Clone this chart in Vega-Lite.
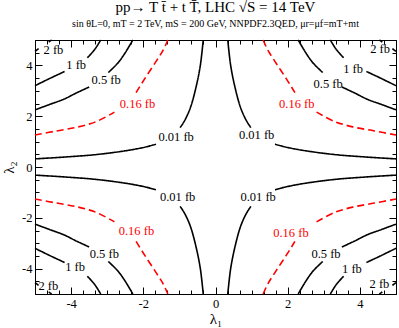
{
  "$schema": "https://vega.github.io/schema/vega-lite/v6.json",
  "autosize": {"type": "none"},
  "width": 361,
  "height": 254,
  "padding": {"left": 35, "top": 40, "right": 3, "bottom": 34},
  "background": "white",
  "title": {
    "text": "pp→ T t̄ + t T̄, LHC √S = 14 TeV",
    "subtitle": "sin θL=0, mT = 2 TeV, mS = 200 GeV, NNPDF2.3QED, μr=μf=mT+mt",
    "font": "Liberation Serif",
    "fontSize": 15,
    "fontWeight": "normal",
    "color": "black",
    "subtitleFont": "Liberation Serif",
    "subtitleFontSize": 10,
    "subtitleColor": "black",
    "anchor": "middle",
    "offset": 8,
    "subtitlePadding": 4
  },
  "datasets": {
    "lines": [
      {"k": "0.01", "g": "UL01a", "a": -5, "b": 0.32},
      {"k": "0.01", "g": "UL01a", "a": -4.2, "b": 0.39},
      {"k": "0.01", "g": "UL01a", "a": -3.3, "b": 0.49},
      {"k": "0.01", "g": "UL01a", "a": -2.4, "b": 0.66},
      {"k": "0.01", "g": "UL01a", "a": -1.9, "b": 0.8},
      {"k": "0.01", "g": "UL01a", "a": -1.65, "b": 0.9},
      {"k": "0.01", "g": "UL01b", "a": -0.98, "b": 1.55},
      {"k": "0.01", "g": "UL01b", "a": -0.9, "b": 1.72},
      {"k": "0.01", "g": "UL01b", "a": -0.8, "b": 1.98},
      {"k": "0.01", "g": "UL01b", "a": -0.68, "b": 2.4},
      {"k": "0.01", "g": "UL01b", "a": -0.53, "b": 3.2},
      {"k": "0.01", "g": "UL01b", "a": -0.42, "b": 4.0},
      {"k": "0.01", "g": "UL01b", "a": -0.34, "b": 5},
      {"k": "0.16", "g": "UL16a", "a": -5, "b": 1.26},
      {"k": "0.16", "g": "UL16a", "a": -4.4, "b": 1.42},
      {"k": "0.16", "g": "UL16a", "a": -3.8, "b": 1.58},
      {"k": "0.16", "g": "UL16a", "a": -3.3, "b": 1.79},
      {"k": "0.16", "g": "UL16a", "a": -2.8, "b": 2.16},
      {"k": "0.16", "g": "UL16b", "a": -2.2, "b": 2.93},
      {"k": "0.16", "g": "UL16b", "a": -1.95, "b": 3.5},
      {"k": "0.16", "g": "UL16b", "a": -1.65, "b": 4.15},
      {"k": "0.16", "g": "UL16b", "a": -1.45, "b": 4.6},
      {"k": "0.16", "g": "UL16b", "a": -1.32, "b": 5},
      {"k": "0.5", "g": "UL5a", "a": -5, "b": 2.25},
      {"k": "0.5", "g": "UL5a", "a": -4.6, "b": 2.46},
      {"k": "0.5", "g": "UL5a", "a": -4.2, "b": 2.67},
      {"k": "0.5", "g": "UL5a", "a": -3.86, "b": 2.91},
      {"k": "0.5", "g": "UL5a", "a": -3.5, "b": 3.15},
      {"k": "0.5", "g": "UL5b", "a": -2.97, "b": 3.72},
      {"k": "0.5", "g": "UL5b", "a": -2.7, "b": 4.1},
      {"k": "0.5", "g": "UL5b", "a": -2.5, "b": 4.5},
      {"k": "0.5", "g": "UL5b", "a": -2.29, "b": 5},
      {"k": "1", "g": "UL1a", "a": -5, "b": 3.2},
      {"k": "1", "g": "UL1a", "a": -4.6, "b": 3.48},
      {"k": "1", "g": "UL1a", "a": -4.18, "b": 3.76},
      {"k": "1", "g": "UL1b", "a": -3.55, "b": 4.3},
      {"k": "1", "g": "UL1b", "a": -3.35, "b": 4.62},
      {"k": "1", "g": "UL1b", "a": -3.18, "b": 5},
      {"k": "2", "g": "UL2a", "a": -5, "b": 4.55},
      {"k": "2", "g": "UL2a", "a": -4.9, "b": 4.66},
      {"k": "2", "g": "UL2b", "a": -4.62, "b": 4.92},
      {"k": "2", "g": "UL2b", "a": -4.54, "b": 5},

      {"k": "0.01", "g": "UR01a", "a": 5, "b": 0.32},
      {"k": "0.01", "g": "UR01a", "a": 4.2, "b": 0.39},
      {"k": "0.01", "g": "UR01a", "a": 3.3, "b": 0.49},
      {"k": "0.01", "g": "UR01a", "a": 2.4, "b": 0.66},
      {"k": "0.01", "g": "UR01a", "a": 1.9, "b": 0.8},
      {"k": "0.01", "g": "UR01a", "a": 1.65, "b": 0.9},
      {"k": "0.01", "g": "UR01b", "a": 0.98, "b": 1.55},
      {"k": "0.01", "g": "UR01b", "a": 0.9, "b": 1.72},
      {"k": "0.01", "g": "UR01b", "a": 0.8, "b": 1.98},
      {"k": "0.01", "g": "UR01b", "a": 0.68, "b": 2.4},
      {"k": "0.01", "g": "UR01b", "a": 0.53, "b": 3.2},
      {"k": "0.01", "g": "UR01b", "a": 0.42, "b": 4.0},
      {"k": "0.01", "g": "UR01b", "a": 0.34, "b": 5},
      {"k": "0.16", "g": "UR16a", "a": 5, "b": 1.26},
      {"k": "0.16", "g": "UR16a", "a": 4.4, "b": 1.42},
      {"k": "0.16", "g": "UR16a", "a": 3.8, "b": 1.58},
      {"k": "0.16", "g": "UR16a", "a": 3.3, "b": 1.79},
      {"k": "0.16", "g": "UR16a", "a": 2.8, "b": 2.16},
      {"k": "0.16", "g": "UR16b", "a": 2.2, "b": 2.93},
      {"k": "0.16", "g": "UR16b", "a": 1.95, "b": 3.5},
      {"k": "0.16", "g": "UR16b", "a": 1.65, "b": 4.15},
      {"k": "0.16", "g": "UR16b", "a": 1.45, "b": 4.6},
      {"k": "0.16", "g": "UR16b", "a": 1.32, "b": 5},
      {"k": "0.5", "g": "UR5a", "a": 5, "b": 2.25},
      {"k": "0.5", "g": "UR5a", "a": 4.6, "b": 2.46},
      {"k": "0.5", "g": "UR5a", "a": 4.2, "b": 2.67},
      {"k": "0.5", "g": "UR5a", "a": 3.86, "b": 2.91},
      {"k": "0.5", "g": "UR5a", "a": 3.5, "b": 3.15},
      {"k": "0.5", "g": "UR5b", "a": 2.97, "b": 3.72},
      {"k": "0.5", "g": "UR5b", "a": 2.7, "b": 4.1},
      {"k": "0.5", "g": "UR5b", "a": 2.5, "b": 4.5},
      {"k": "0.5", "g": "UR5b", "a": 2.29, "b": 5},
      {"k": "1", "g": "UR1a", "a": 5, "b": 3.2},
      {"k": "1", "g": "UR1a", "a": 4.6, "b": 3.48},
      {"k": "1", "g": "UR1a", "a": 4.18, "b": 3.76},
      {"k": "1", "g": "UR1b", "a": 3.55, "b": 4.3},
      {"k": "1", "g": "UR1b", "a": 3.35, "b": 4.62},
      {"k": "1", "g": "UR1b", "a": 3.18, "b": 5},
      {"k": "2", "g": "UR2a", "a": 5, "b": 4.55},
      {"k": "2", "g": "UR2a", "a": 4.9, "b": 4.66},
      {"k": "2", "g": "UR2b", "a": 4.62, "b": 4.92},
      {"k": "2", "g": "UR2b", "a": 4.54, "b": 5},

      {"k": "0.01", "g": "LL01a", "a": -5, "b": -0.32},
      {"k": "0.01", "g": "LL01a", "a": -4.2, "b": -0.39},
      {"k": "0.01", "g": "LL01a", "a": -3.3, "b": -0.49},
      {"k": "0.01", "g": "LL01a", "a": -2.4, "b": -0.66},
      {"k": "0.01", "g": "LL01a", "a": -1.9, "b": -0.8},
      {"k": "0.01", "g": "LL01a", "a": -1.65, "b": -0.9},
      {"k": "0.01", "g": "LL01b", "a": -0.98, "b": -1.55},
      {"k": "0.01", "g": "LL01b", "a": -0.9, "b": -1.72},
      {"k": "0.01", "g": "LL01b", "a": -0.8, "b": -1.98},
      {"k": "0.01", "g": "LL01b", "a": -0.68, "b": -2.4},
      {"k": "0.01", "g": "LL01b", "a": -0.53, "b": -3.2},
      {"k": "0.01", "g": "LL01b", "a": -0.42, "b": -4.0},
      {"k": "0.01", "g": "LL01b", "a": -0.34, "b": -5},
      {"k": "0.16", "g": "LL16a", "a": -5, "b": -1.26},
      {"k": "0.16", "g": "LL16a", "a": -4.4, "b": -1.42},
      {"k": "0.16", "g": "LL16a", "a": -3.8, "b": -1.58},
      {"k": "0.16", "g": "LL16a", "a": -3.3, "b": -1.79},
      {"k": "0.16", "g": "LL16a", "a": -2.8, "b": -2.16},
      {"k": "0.16", "g": "LL16b", "a": -2.2, "b": -2.93},
      {"k": "0.16", "g": "LL16b", "a": -1.95, "b": -3.5},
      {"k": "0.16", "g": "LL16b", "a": -1.65, "b": -4.15},
      {"k": "0.16", "g": "LL16b", "a": -1.45, "b": -4.6},
      {"k": "0.16", "g": "LL16b", "a": -1.32, "b": -5},
      {"k": "0.5", "g": "LL5a", "a": -5, "b": -2.25},
      {"k": "0.5", "g": "LL5a", "a": -4.6, "b": -2.46},
      {"k": "0.5", "g": "LL5a", "a": -4.2, "b": -2.67},
      {"k": "0.5", "g": "LL5a", "a": -3.86, "b": -2.91},
      {"k": "0.5", "g": "LL5a", "a": -3.5, "b": -3.15},
      {"k": "0.5", "g": "LL5b", "a": -2.97, "b": -3.72},
      {"k": "0.5", "g": "LL5b", "a": -2.7, "b": -4.1},
      {"k": "0.5", "g": "LL5b", "a": -2.5, "b": -4.5},
      {"k": "0.5", "g": "LL5b", "a": -2.29, "b": -5},
      {"k": "1", "g": "LL1a", "a": -5, "b": -3.2},
      {"k": "1", "g": "LL1a", "a": -4.6, "b": -3.48},
      {"k": "1", "g": "LL1a", "a": -4.18, "b": -3.76},
      {"k": "1", "g": "LL1b", "a": -3.55, "b": -4.3},
      {"k": "1", "g": "LL1b", "a": -3.35, "b": -4.62},
      {"k": "1", "g": "LL1b", "a": -3.18, "b": -5},
      {"k": "2", "g": "LL2a", "a": -5, "b": -4.55},
      {"k": "2", "g": "LL2a", "a": -4.9, "b": -4.66},
      {"k": "2", "g": "LL2b", "a": -4.62, "b": -4.92},
      {"k": "2", "g": "LL2b", "a": -4.54, "b": -5},

      {"k": "0.01", "g": "LR01a", "a": 5, "b": -0.32},
      {"k": "0.01", "g": "LR01a", "a": 4.2, "b": -0.39},
      {"k": "0.01", "g": "LR01a", "a": 3.3, "b": -0.49},
      {"k": "0.01", "g": "LR01a", "a": 2.4, "b": -0.66},
      {"k": "0.01", "g": "LR01a", "a": 1.9, "b": -0.8},
      {"k": "0.01", "g": "LR01a", "a": 1.65, "b": -0.9},
      {"k": "0.01", "g": "LR01b", "a": 0.98, "b": -1.55},
      {"k": "0.01", "g": "LR01b", "a": 0.9, "b": -1.72},
      {"k": "0.01", "g": "LR01b", "a": 0.8, "b": -1.98},
      {"k": "0.01", "g": "LR01b", "a": 0.68, "b": -2.4},
      {"k": "0.01", "g": "LR01b", "a": 0.53, "b": -3.2},
      {"k": "0.01", "g": "LR01b", "a": 0.42, "b": -4.0},
      {"k": "0.01", "g": "LR01b", "a": 0.34, "b": -5},
      {"k": "0.16", "g": "LR16a", "a": 5, "b": -1.26},
      {"k": "0.16", "g": "LR16a", "a": 4.4, "b": -1.42},
      {"k": "0.16", "g": "LR16a", "a": 3.8, "b": -1.58},
      {"k": "0.16", "g": "LR16a", "a": 3.3, "b": -1.79},
      {"k": "0.16", "g": "LR16a", "a": 2.8, "b": -2.16},
      {"k": "0.16", "g": "LR16b", "a": 2.2, "b": -2.93},
      {"k": "0.16", "g": "LR16b", "a": 1.95, "b": -3.5},
      {"k": "0.16", "g": "LR16b", "a": 1.65, "b": -4.15},
      {"k": "0.16", "g": "LR16b", "a": 1.45, "b": -4.6},
      {"k": "0.16", "g": "LR16b", "a": 1.32, "b": -5},
      {"k": "0.5", "g": "LR5a", "a": 5, "b": -2.25},
      {"k": "0.5", "g": "LR5a", "a": 4.6, "b": -2.46},
      {"k": "0.5", "g": "LR5a", "a": 4.2, "b": -2.67},
      {"k": "0.5", "g": "LR5a", "a": 3.86, "b": -2.91},
      {"k": "0.5", "g": "LR5a", "a": 3.5, "b": -3.15},
      {"k": "0.5", "g": "LR5b", "a": 2.97, "b": -3.72},
      {"k": "0.5", "g": "LR5b", "a": 2.7, "b": -4.1},
      {"k": "0.5", "g": "LR5b", "a": 2.5, "b": -4.5},
      {"k": "0.5", "g": "LR5b", "a": 2.29, "b": -5},
      {"k": "1", "g": "LR1a", "a": 5, "b": -3.2},
      {"k": "1", "g": "LR1a", "a": 4.6, "b": -3.48},
      {"k": "1", "g": "LR1a", "a": 4.18, "b": -3.76},
      {"k": "1", "g": "LR1b", "a": 3.55, "b": -4.3},
      {"k": "1", "g": "LR1b", "a": 3.35, "b": -4.62},
      {"k": "1", "g": "LR1b", "a": 3.18, "b": -5},
      {"k": "2", "g": "LR2a", "a": 5, "b": -4.55},
      {"k": "2", "g": "LR2a", "a": 4.9, "b": -4.66},
      {"k": "2", "g": "LR2b", "a": 4.62, "b": -4.92},
      {"k": "2", "g": "LR2b", "a": 4.54, "b": -5}
    ],
    "labels": [
      {"t": "2 fb", "k": "2", "a": -4.49, "b": 4.62},
      {"t": "1 fb", "k": "1", "a": -3.86, "b": 4.03},
      {"t": "0.5 fb", "k": "0.5", "a": -3.03, "b": 3.44},
      {"t": "0.16 fb", "k": "0.16", "a": -2.16, "b": 2.48},
      {"t": "0.01 fb", "k": "0.01", "a": -1.09, "b": 1.18},
      {"t": "2 fb", "k": "2", "a": 4.56, "b": 4.66},
      {"t": "1 fb", "k": "1", "a": 3.81, "b": 3.87},
      {"t": "0.5 fb", "k": "0.5", "a": 3.12, "b": 3.28},
      {"t": "0.16 fb", "k": "0.16", "a": 2.25, "b": 2.5},
      {"t": "0.01 fb", "k": "0.01", "a": 1.14, "b": 1.25},
      {"t": "0.01 fb", "k": "0.01", "a": -1.05, "b": -1.18},
      {"t": "0.16 fb", "k": "0.16", "a": -2.19, "b": -2.52},
      {"t": "0.5 fb", "k": "0.5", "a": -3.08, "b": -3.41},
      {"t": "1 fb", "k": "1", "a": -3.89, "b": -3.94},
      {"t": "2 fb", "k": "2", "a": -4.63, "b": -4.7},
      {"t": "0.01 fb", "k": "0.01", "a": 1.18, "b": -1.18},
      {"t": "0.16 fb", "k": "0.16", "a": 2.09, "b": -2.58},
      {"t": "0.5 fb", "k": "0.5", "a": 3.06, "b": -3.41},
      {"t": "1 fb", "k": "1", "a": 3.78, "b": -4.0},
      {"t": "2 fb", "k": "2", "a": 4.54, "b": -4.59}
    ]
  },
  "layer": [
    {
      "data": {"name": "lines"},
      "mark": {"type": "line", "interpolate": "catmull-rom", "strokeWidth": 1.6},
      "encoding": {
        "x": {
          "field": "a", "type": "quantitative",
          "scale": {"domain": [-5, 5], "nice": false, "zero": false},
          "axis": {
            "orient": "bottom",
            "title": "λ₁",
            "values": [-5, -4.6667, -4.3333, -4, -3.6667, -3.3333, -3, -2.6667, -2.3333, -2, -1.6667, -1.3333, -1, -0.6667, -0.3333, 0, 0.3333, 0.6667, 1, 1.3333, 1.6667, 2, 2.3333, 2.6667, 3, 3.3333, 3.6667, 4, 4.3333, 4.6667, 5],
            "labelExpr": "abs(datum.value % 2) < 0.01 && abs(datum.value) < 4.9 ? toString(datum.value) : ''",
            "tickSize": {"condition": {"test": "abs(datum.value % 2) < 0.01", "value": -7}, "value": -4},
            "labelPadding": 10,
            "titlePadding": 2
          }
        },
        "y": {
          "field": "b", "type": "quantitative",
          "scale": {"domain": [-5, 5], "nice": false, "zero": false},
          "axis": {
            "orient": "left",
            "title": "λ₂",
            "values": [-5, -4.5, -4, -3.5, -3, -2.5, -2, -1.5, -1, -0.5, 0, 0.5, 1, 1.5, 2, 2.5, 3, 3.5, 4, 4.5, 5],
            "labelExpr": "abs(datum.value % 2) < 0.01 && abs(datum.value) < 4.9 ? toString(datum.value) : ''",
            "tickSize": {"condition": {"test": "abs(datum.value % 2) < 0.01", "value": -7}, "value": -4},
            "labelPadding": 10,
            "titlePadding": 5
          }
        },
        "color": {
          "field": "k", "type": "nominal", "legend": null,
          "scale": {"domain": ["0.01", "0.16", "0.5", "1", "2"], "range": ["black", "#ff0000", "black", "black", "black"]}
        },
        "strokeDash": {
          "field": "k", "type": "nominal", "legend": null,
          "scale": {"domain": ["0.01", "0.16", "0.5", "1", "2"], "range": [[1, 0], [7, 4], [1, 0], [1, 0], [1, 0]]}
        },
        "detail": {"field": "g"}
      }
    },
    {
      "data": {"name": "labels"},
      "mark": {"type": "text", "font": "Liberation Serif", "fontSize": 12.5, "align": "center", "baseline": "middle"},
      "encoding": {
        "x": {
          "field": "a", "type": "quantitative",
          "scale": {"domain": [-5, 5], "nice": false, "zero": false},
          "axis": {
            "orient": "top", "title": null, "labels": false,
            "values": [-5, -4.6667, -4.3333, -4, -3.6667, -3.3333, -3, -2.6667, -2.3333, -2, -1.6667, -1.3333, -1, -0.6667, -0.3333, 0, 0.3333, 0.6667, 1, 1.3333, 1.6667, 2, 2.3333, 2.6667, 3, 3.3333, 3.6667, 4, 4.3333, 4.6667, 5],
            "tickSize": {"condition": {"test": "abs(datum.value % 2) < 0.01", "value": -7}, "value": -4}
          }
        },
        "y": {
          "field": "b", "type": "quantitative",
          "scale": {"domain": [-5, 5], "nice": false, "zero": false},
          "axis": {
            "orient": "right", "title": null, "labels": false,
            "values": [-5, -4.5, -4, -3.5, -3, -2.5, -2, -1.5, -1, -0.5, 0, 0.5, 1, 1.5, 2, 2.5, 3, 3.5, 4, 4.5, 5],
            "tickSize": {"condition": {"test": "abs(datum.value % 2) < 0.01", "value": -7}, "value": -4}
          }
        },
        "text": {"field": "t"},
        "color": {"field": "k", "type": "nominal", "legend": null}
      }
    }
  ],
  "resolve": {"axis": {"x": "independent", "y": "independent"}},
  "config": {
    "font": "Liberation Serif",
    "text": {"font": "Liberation Serif"},
    "view": {"stroke": "black", "strokeWidth": 1},
    "axis": {
      "grid": false,
      "domain": false,
      "tickColor": "black",
      "tickWidth": 1,
      "labelColor": "black",
      "titleColor": "black",
      "labelFont": "Liberation Serif",
      "labelFontSize": 12.5,
      "titleFont": "Liberation Serif",
      "titleFontSize": 15,
      "titleFontWeight": "normal"
    }
  }
}
